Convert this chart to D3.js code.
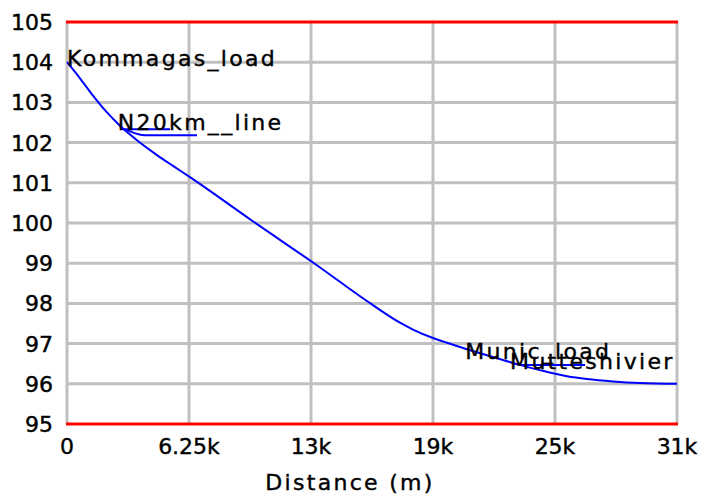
<!DOCTYPE html>
<html>
<head>
<meta charset="utf-8">
<script src="https://cdn.jsdelivr.net/npm/d3@7"></script>
<style>
  body { margin: 0; background: #fff; }
  text { font-family: "DejaVu Sans", sans-serif; fill: #000; stroke: #000; stroke-width: 0.4px; }
  .tick-label { font-size: 22px; }
  .name-label { font-size: 22px; letter-spacing: 2.3px; }
</style>
</head>
<body>
<div id="chart"></div>
<script>
// Distance ticks (m) and their printed labels
var xTicks = [0, 6250, 12500, 18750, 25000, 31250];
var xTickLabels = ['0', '6.25k', '13k', '19k', '25k', '31k'];
var yTicks = [95, 96, 97, 98, 99, 100, 101, 102, 103, 104, 105];

// Main profile (distance m, elevation)
var mainLine = [
  [0, 104.0], [666, 103.6], [1281, 103.2], [2049, 102.75], [2715, 102.42],
  [3586, 102.06], [4611, 101.69], [5430, 101.42], [6301, 101.14],
  [9500, 100.05], [12800, 98.95], [15600, 97.98], [17060, 97.52], [17725, 97.35],
  [18750, 97.14], [19467, 97.02], [20492, 96.86], [21516, 96.71], [22694, 96.54],
  [24231, 96.34], [25615, 96.19], [26639, 96.12], [27971, 96.06], [29355, 96.02],
  [31250, 96.0]
];
// Side branches
var branchA = [[2715, 102.42], [2870, 102.33], [5280, 102.33]];
var branchB = [[3070, 102.31], [4000, 102.18], [6660, 102.18]];
var branchC = [[22700, 96.54], [23300, 96.47], [26540, 96.47]];

// Node labels
var labelNames = ['Kommagas_load', 'N20km__line', 'Munic_load', 'Mutteshivier'];
var labelX = [0, 2600, 20400, 22700];
var labelY = [103.98, 102.4, 96.69, 96.45];

var W = 702, H = 497;
var margin = {top: 22, right: 25, bottom: 73, left: 67};

var x = d3.scaleLinear().domain([0, 31250]).range([margin.left, W - margin.right]);
var y = d3.scaleLinear().domain([95, 105]).range([H - margin.bottom, margin.top]);

var svg = d3.select('#chart').append('svg')
  .attr('width', W)
  .attr('height', H);

// Grid
svg.append('g').selectAll('line.h')
  .data(yTicks.slice(1, -1))
  .enter().append('line')
  .attr('x1', x(0)).attr('x2', x(31250))
  .attr('y1', function(d) { return y(d); })
  .attr('y2', function(d) { return y(d); })
  .attr('stroke', '#c0c0c0').attr('stroke-width', 3);

svg.append('g').selectAll('line.v')
  .data(xTicks)
  .enter().append('line')
  .attr('x1', function(d) { return x(d); })
  .attr('x2', function(d) { return x(d); })
  .attr('y1', y(105)).attr('y2', y(95))
  .attr('stroke', '#c0c0c0').attr('stroke-width', 3);

// Red limit lines
svg.append('g').selectAll('line.r')
  .data([95, 105])
  .enter().append('line')
  .attr('x1', x(0) - 1).attr('x2', x(31250) + 1)
  .attr('y1', function(d) { return y(d); })
  .attr('y2', function(d) { return y(d); })
  .attr('stroke', '#ff0000').attr('stroke-width', 3);

// Tick labels
svg.append('g').selectAll('text')
  .data(yTicks)
  .enter().append('text')
  .attr('class', 'tick-label')
  .attr('x', 53)
  .attr('y', function(d) { return y(d); })
  .attr('dy', '0.36em')
  .attr('text-anchor', 'end')
  .text(function(d) { return d; });

svg.append('g').selectAll('text')
  .data(xTicks)
  .enter().append('text')
  .attr('class', 'tick-label')
  .attr('x', function(d) { return x(d); })
  .attr('y', 454)
  .attr('text-anchor', 'middle')
  .text(function(d, i) { return xTickLabels[i]; });

svg.append('text')
  .attr('class', 'name-label')
  .attr('x', 350)
  .attr('y', 490)
  .attr('text-anchor', 'middle')
  .text('Distance (m)');

// Profile lines
var line = d3.line()
  .curve(d3.curveMonotoneX)
  .x(function(d) { return x(d[0]); })
  .y(function(d) { return y(d[1]); });

[mainLine, branchA, branchB, branchC].forEach(function(series) {
  svg.append('path')
    .attr('d', line(series))
    .attr('fill', 'none')
    .attr('stroke', '#0000ff')
    .attr('stroke-width', 2);
});

// Node labels
svg.append('g').selectAll('text')
  .data(labelNames)
  .enter().append('text')
  .attr('class', 'name-label')
  .attr('x', function(d, i) { return x(labelX[i]); })
  .attr('y', function(d, i) { return y(labelY[i]) + 3; })
  .text(function(d) { return d; });
</script>
</body>
</html>
